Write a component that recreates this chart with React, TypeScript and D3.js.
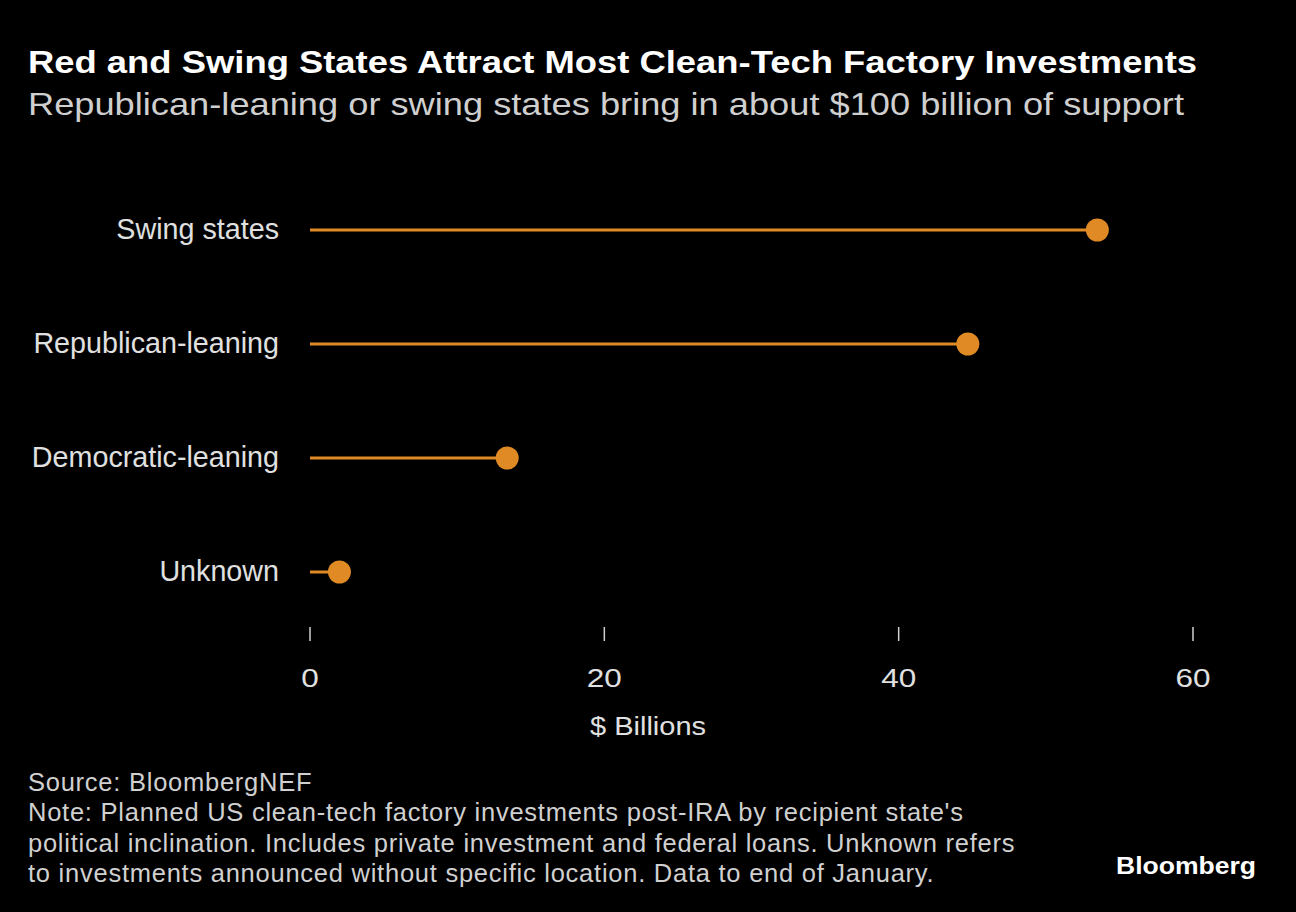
import React, { useEffect } from "react";
import * as d3 from "d3";

const categories = ["Swing states", "Republican-leaning", "Democratic-leaning", "Unknown"];
const values = [53.5, 44.7, 13.4, 2.0];
const tickValues = [0, 20, 40, 60];
const title = "Red and Swing States Attract Most Clean-Tech Factory Investments";
const subtitle = "Republican-leaning or swing states bring in about $100 billion of support";
const axisLabel = "$ Billions";
const footerLines = [
  "Source: BloombergNEF",
  "Note: Planned US clean-tech factory investments post-IRA by recipient state's",
  "political inclination. Includes private investment and federal loans. Unknown refers",
  "to investments announced without specific location. Data to end of January.",
];

const W = 1296;
const H = 912;
const FONT = "'Liberation Sans', Arial, Helvetica, sans-serif";
const ORANGE = "#E08A25";

export default function App() {
  useEffect(() => {
    document.body.style.margin = "0";
    document.body.style.background = "#000";
  }, []);

  const x = d3.scaleLinear().domain([0, 60]).range([310, 1193]);
  const y = d3.scalePoint<string>().domain(categories).range([230, 572]);

  return (
    <svg width={W} height={H} style={{ display: "block", background: "#000" }} fontFamily={FONT}>
      <rect x={0} y={0} width={W} height={H} fill="#000" />
      <text x={28} y={73} fill="#fff" fontSize={32} fontWeight="bold" textLength={1169} lengthAdjust="spacingAndGlyphs">
        {title}
      </text>
      <text x={28} y={115} fill="#cfcfcf" fontSize={31.5} textLength={1156} lengthAdjust="spacingAndGlyphs">
        {subtitle}
      </text>

      {categories.map((c, i) => (
        <g key={c}>
          <text x={279} y={(y(c) as number) + 8.5} textAnchor="end" fill="#e0e0e0" fontSize={28.7}>
            {c}
          </text>
          <line x1={x(0)} x2={x(values[i])} y1={y(c)} y2={y(c)} stroke={ORANGE} strokeWidth={3} />
          <circle cx={x(values[i])} cy={y(c)} r={11.5} fill={ORANGE} />
        </g>
      ))}

      {tickValues.map((t) => {
        const s = String(t);
        return (
          <g key={t}>
            <line x1={x(t)} x2={x(t)} y1={627} y2={641} stroke="#d0d0d0" strokeWidth={1.5} />
            <text
              x={x(t) - 8.75 * s.length}
              y={687}
              fill="#e0e0e0"
              fontSize={26.5}
              textLength={17.5 * s.length}
              lengthAdjust="spacingAndGlyphs"
            >
              {s}
            </text>
          </g>
        );
      })}
      <text x={590} y={735} fill="#e0e0e0" fontSize={26.5} textLength={116} lengthAdjust="spacingAndGlyphs">
        {axisLabel}
      </text>

      {footerLines.map((l, i) => (
        <text key={i} x={28} y={791 + i * 30.4} fill="#d0d0d0" fontSize={25.5} letterSpacing={0.75}>
          {l}
        </text>
      ))}
      <text x={1116} y={874} fill="#fff" fontSize={24.5} fontWeight="bold" textLength={140} lengthAdjust="spacingAndGlyphs">
        Bloomberg
      </text>
    </svg>
  );
}
